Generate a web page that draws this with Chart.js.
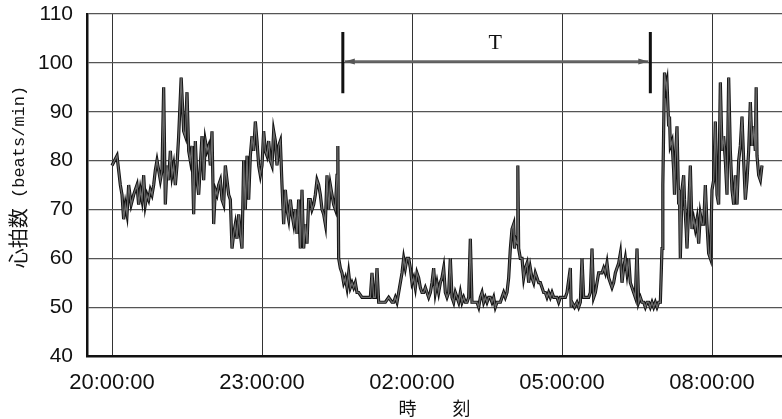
<!DOCTYPE html>
<html><head><meta charset="utf-8">
<script src="https://cdn.jsdelivr.net/npm/chart.js@4/dist/chart.umd.min.js"></script>
<style>html,body{margin:0;padding:0;background:#fff;}#wrap{width:782px;height:419px;}</style>
</head><body><div id="wrap"><canvas id="c" width="782" height="419"></canvas></div>
<script>
// Recording start: 20:00 ; x values are minutes elapsed since 20:00
const startClockMin = 20 * 60;
const elapsedMin = [
0,6,8,10,12,14,16,18,20,23,26,28,30,32,34,36,38,40,42,44,46,48,50,52,54,56,58,60,62,64,66,68,70,72,74,76,78,80,83,86,88,90,92,94,96,98,100,102,104,106,108,110,
112,114,116,118,120,122,124,126,128,130,132,134,136,138,140,142,144,146,148,150,152,154,156,158,160,162,164,166,168,170,172,174,176,178,180,182,184,186,188,190,192,194,196,198,200,202,204,206,208,210,212,214,216,218,220,222,224,226,
228,230,232,234,236,238,240,242,244,246,248,250,252,254,256,258,260,262,264,266,268,270,271,272,274,276,278,280,282,284,286,288,290,292,294,296,300,304,306,308,310,312,314,316,318,320,322,324,328,332,336,
338,340,342,344,346,348,350,352,354,356,358,360,362,364,366,368,370,372,374,376,378,380,382,384,386,388,390,392,394,396,398,400,402,404,406,408,410,412,414,416,418,420,422,424,426,428,430,432,434,436,438,440,442,444,446,448,450,452,
454,456,458,460,462,464,466,468,470,472,474,476,478,480,482,483,484,486,487,488,490,492,494,496,498,500,502,504,506,508,510,512,514,516,518,520,522,524,526,528,530,532,534,536,538,540,542,544,546,550,551,552,555,558,560,562,564,566,
570,572,574,576,578,580,582,584,586,588,590,592,594,596,598,600,602,604,606,608,610,612,614,616,618,620,622,624,626,628,630,632,634,636,638,640,642,644,646,648,650,652,654,656,658,660,661,
663,665,666,668,669,670,672,674,675,676,678,680,681,682,684,686,687,689,690,692,694,696,698,700,702,704,706,708,710,712,714,716,718,720,722,724,726,728,730,732,734,736,738,740,742,744,746,748,750,752,754,756,758,760,762,764,766,768,770,772,773,774,776,778,780,781
];
const heartRate = [
79,81,78,75,73,68,71,69,75,71,73,74,75,71,74,72,77,71,73,72,74,73,75,78,80,78,76,78,95,71,79,76,82,77,79,75,79,85,97,86,85,94,82,80,83,69,84,76,73,79,85,76,
84,82,83,79,86,67,74,73,75,76,72,71,79,76,73,72,62,65,67,64,69,65,62,80,70,81,72,81,85,82,88,84,79,77,79,86,82,81,84,80,79,86,84,79,83,84,75,67,74,70,68,72,69,67,70,65,72,62,
74,62,67,63,72,72,70,71,73,76,75,73,70,69,67,77,70,75,73,71,70,77,83,60,58,57,55,56,54,57,54,55,54,55,53,53,52,52,52,52,52,57,52,52,58,51,51,51,51,52,51,
51,52,51,53,55,57,60,58,60,60,58,55,56,54,57,56,54,53,53,54,53,52,53,55,58,53,55,53,55,56,58,53,52,53,60,52,51,53,52,51,53,51,52,51,51,52,64,51,51,51,51,50,52,53,51,52,51,52,
52,51,52,50,51,51,51,52,53,52,53,56,62,66,67,62,64,63,79,62,60,60,56,58,59,55,58,56,55,57,56,55,55,54,53,53,52,53,52,53,52,52,52,51,52,52,52,52,53,58,50,51,50,51,50,51,60,52,
52,52,53,62,52,53,55,57,57,57,58,57,59,56,55,54,55,57,58,59,61,55,58,60,57,60,55,54,53,52,62,51,52,51,51,50,51,51,50,51,50,51,50,51,51,62,75,
98,95,96,87,89,83,84,78,73,80,87,71,74,60,74,77,72,66,62,70,79,66,68,66,68,63,69,67,67,75,67,61,60,74,76,88,73,71,96,82,85,80,73,97,82,74,71,77,71,80,83,89,80,72,76,82,92,83,87,82,95,81,77,76,79,79
];
const yTickValues = [40, 50, 60, 70, 80, 90, 100, 110];
const xTickValues = [0, 180, 360, 540, 720]; // 20:00, 23:00, 02:00, 05:00, 08:00
const yTitleMain = '心拍数';
const yTitleUnit = ' (beats/min)';
const xTitleText = '時　　刻';
// "T" interval annotation (minutes since 20:00, bpm)
const tLabel = 'T';
const tStartMin = 277;
const tEndMin = 646;
const tArrowBpm = 100.3;
const tBarTopBpm = 106.3;
const tBarBottomBpm = 93.8;
const tLabelMin = 460;
const tLabelBpm = 104;

function fmtClock(m) {
  let t = (startClockMin + m) % 1440;
  if (t < 0) t += 1440;
  const h = Math.floor(t / 60), mm = t % 60;
  return String(h).padStart(2, '0') + ':' + String(mm).padStart(2, '0') + ':00';
}

const points = elapsedMin.map((m, i) => ({x: m, y: heartRate[i]}));

const annotationPlugin = {
  id: 'tInterval',
  afterDatasetsDraw(chart) {
    const {ctx, scales: {x, y}} = chart;
    const xs = x.getPixelForValue(tStartMin), xe = x.getPixelForValue(tEndMin);
    const ya = y.getPixelForValue(tArrowBpm);
    const yt = y.getPixelForValue(tBarTopBpm), yb = y.getPixelForValue(tBarBottomBpm);
    ctx.save();
    ctx.strokeStyle = '#666'; ctx.lineWidth = 2.2;
    ctx.beginPath(); ctx.moveTo(xs + 2, ya); ctx.lineTo(xe - 2, ya); ctx.stroke();
    ctx.fillStyle = '#555';
    ctx.beginPath(); ctx.moveTo(xs + 2, ya); ctx.lineTo(xs + 12, ya - 3); ctx.lineTo(xs + 12, ya + 3); ctx.closePath(); ctx.fill();
    ctx.beginPath(); ctx.moveTo(xe - 2, ya); ctx.lineTo(xe - 12, ya - 3); ctx.lineTo(xe - 12, ya + 3); ctx.closePath(); ctx.fill();
    ctx.strokeStyle = '#111'; ctx.lineWidth = 3;
    ctx.beginPath(); ctx.moveTo(xs, yt); ctx.lineTo(xs, yb); ctx.moveTo(xe, yt); ctx.lineTo(xe, yb); ctx.stroke();
    ctx.fillStyle = '#111';
    ctx.font = '22px "Liberation Serif", serif';
    ctx.textAlign = 'center'; ctx.textBaseline = 'middle';
    ctx.fillText(tLabel, x.getPixelForValue(tLabelMin), y.getPixelForValue(tLabelBpm));
    ctx.restore();
  }
};

// Y-axis title with mixed fonts (CJK part larger, unit part in monospace)
const yTitlePlugin = {
  id: 'yTitleMixed',
  afterDraw(chart) {
    const ctx = chart.ctx;
    const fMain = '20px "Noto Sans CJK JP", sans-serif';
    const fUnit = '17px "Liberation Mono", monospace';
    ctx.save();
    ctx.font = fMain; const w1 = ctx.measureText(yTitleMain).width;
    ctx.font = fUnit; const w2 = ctx.measureText(yTitleUnit).width;
    const cx = 18, cy = 177;
    ctx.translate(cx, cy);
    ctx.rotate(-Math.PI / 2);
    ctx.fillStyle = '#111';
    ctx.textBaseline = 'middle'; ctx.textAlign = 'left';
    const start = -(w1 + w2) / 2;
    ctx.font = fMain; ctx.fillText(yTitleMain, start, 0);
    ctx.font = fUnit; ctx.fillText(yTitleUnit, start + w1, 1);
    ctx.restore();
  }
};

new Chart(document.getElementById('c'), {
  type: 'line',
  data: {
    datasets: [
      {data: points, borderColor: '#6a6a6a', borderWidth: 1.3, pointRadius: 0, tension: 0, order: 1},
      {data: points, borderColor: '#111', borderWidth: 3.2, pointRadius: 0, tension: 0, order: 2}
    ]
  },
  options: {
    responsive: false,
    animation: false,
    devicePixelRatio: 1,
    parsing: false,
    layout: {padding: {top: 14, right: 0, left: 0, bottom: 0}},
    plugins: {legend: {display: false}, tooltip: {enabled: false}},
    scales: {
      x: {
        type: 'linear', min: -30, max: 804,
        afterBuildTicks(scale) { scale.ticks = xTickValues.map(v => ({value: v})); },
        afterFit(scale) { scale.height = 63; scale.paddingLeft = 0; scale.paddingRight = 0; },
        ticks: {callback: v => fmtClock(v), color: '#111', padding: 14, maxRotation: 0, autoSkip: false,
                font: {family: '"Liberation Sans", Arial, sans-serif', size: 22}},
        grid: {color: '#333', lineWidth: 1, drawTicks: false},
        border: {display: true, color: '#111', width: 2.5},
        title: {display: true, text: xTitleText, color: '#111', padding: {top: 1, bottom: 0},
                font: {family: '"Noto Sans CJK JP", sans-serif', size: 18}}
      },
      y: {
        min: 40, max: 110,
        afterBuildTicks(scale) { scale.ticks = yTickValues.map(v => ({value: v})); },
        afterFit(scale) { scale.width = 87; scale.paddingTop = 0; scale.paddingBottom = 0; },
        ticks: {color: '#111', padding: 14,
                font: {family: '"Liberation Sans", Arial, sans-serif', size: 21}},
        grid: {color: '#555', lineWidth: 1.2, drawTicks: false},
        border: {display: true, color: '#111', width: 2.5},
        title: {display: false}
      }
    }
  },
  plugins: [annotationPlugin, yTitlePlugin]
});
</script></body></html>
